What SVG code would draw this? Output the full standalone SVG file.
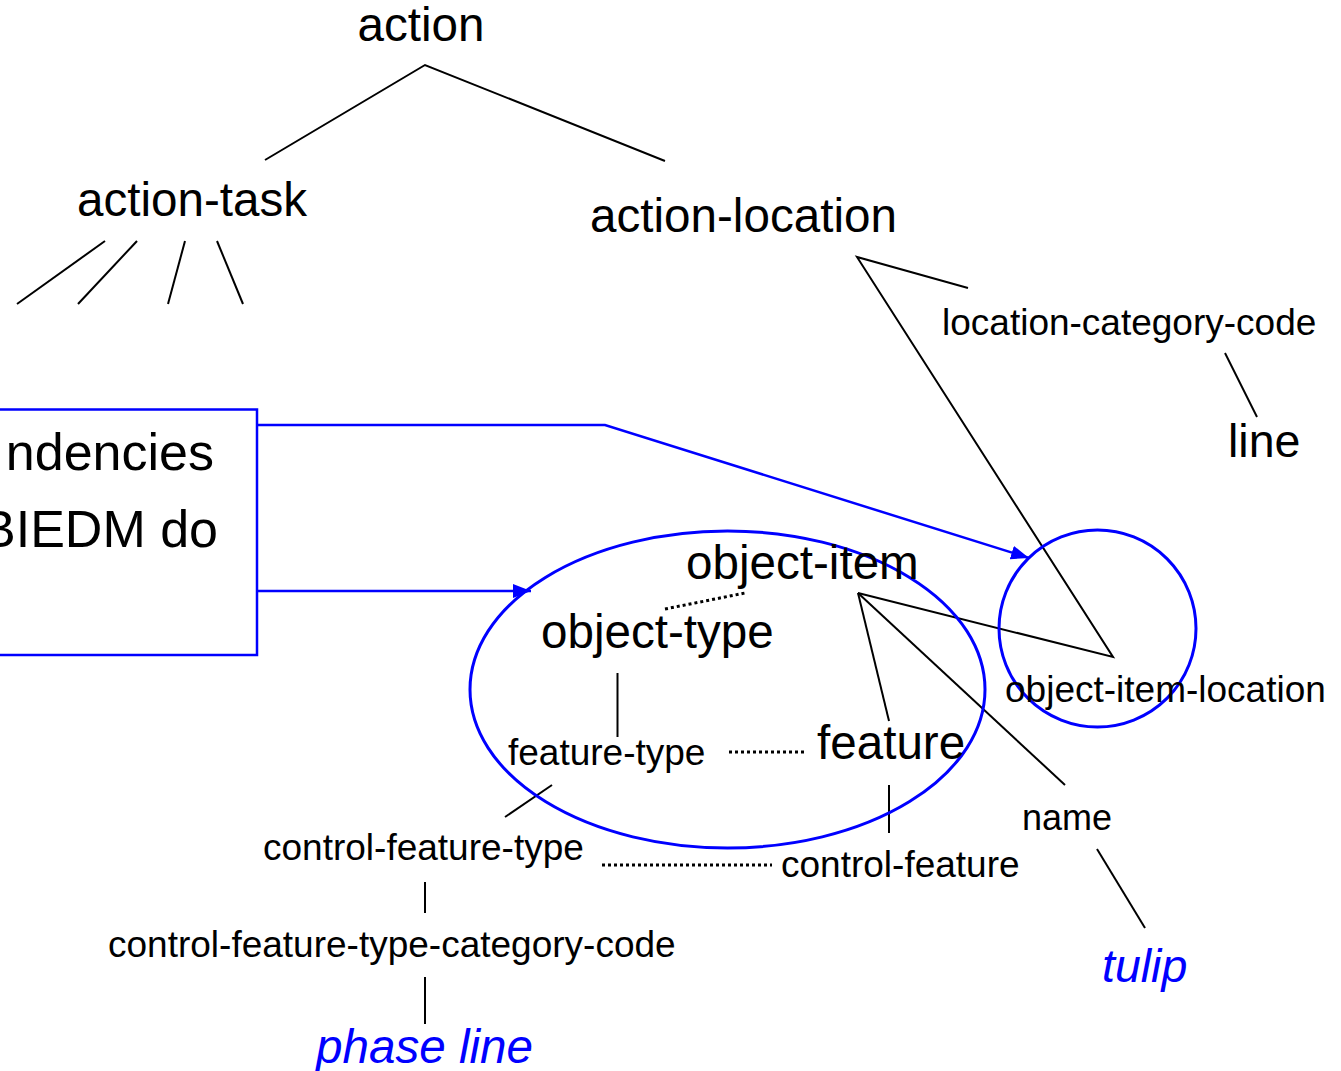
<svg xmlns="http://www.w3.org/2000/svg" width="1341" height="1071" viewBox="0 0 1341 1071">
<style>
text{font-family:"Liberation Sans",Arial,sans-serif;fill:#000}
.L{font-size:47.6px}
.S{font-size:37px}
.B{font-size:52px}
.I{font-style:italic;fill:#0000FF}
.ln{stroke:#000;stroke-width:2;fill:none}
.dot{stroke:#000;stroke-width:3;stroke-dasharray:3 3;fill:none}
.blue{stroke:#0000FF;stroke-width:2.5;fill:none}
</style>
<defs>
<marker id="ah" viewBox="0 0 10 10" refX="10" refY="5" markerWidth="18" markerHeight="14" markerUnits="userSpaceOnUse" orient="auto" preserveAspectRatio="none">
<path d="M0,0 L10,5 L0,10 z" fill="#0000FF"/>
</marker>
</defs>
<rect width="1341" height="1071" fill="#fff"/>
<g id="connectors">
<polyline class="ln" points="265,160 425,65 665,161"/>
<line class="ln" x1="105" y1="241" x2="17" y2="304"/>
<line class="ln" x1="137" y1="241" x2="78" y2="304"/>
<line class="ln" x1="185" y1="241" x2="168" y2="304"/>
<line class="ln" x1="217" y1="241" x2="243" y2="304"/>
<polyline class="ln" points="968,288 857,257 1113,657 858,593"/>
<line class="ln" x1="1225" y1="353" x2="1257" y2="417"/>
<line class="ln" x1="858" y1="593" x2="889" y2="721"/>
<line class="ln" x1="858" y1="593" x2="1065" y2="785"/>
<line class="ln" x1="1097" y1="849" x2="1145" y2="928"/>
<line class="ln" x1="617.5" y1="673" x2="617.5" y2="737"/>
<line class="ln" x1="889" y1="785" x2="889" y2="833"/>
<line class="ln" x1="552" y1="785" x2="505" y2="817"/>
<line class="ln" x1="425" y1="882" x2="425" y2="913"/>
<line class="ln" x1="425" y1="977" x2="425" y2="1024"/>
<line class="dot" x1="665" y1="609" x2="745" y2="593"/>
<line class="dot" x1="729" y1="752" x2="805" y2="752"/>
<line class="dot" x1="602" y1="865" x2="772" y2="865"/>
<polyline class="blue" points="257,425 605,425 1029,558" stroke-width="3" marker-end="url(#ah)"/>
<line class="blue" x1="257" y1="591" x2="531" y2="591" marker-end="url(#ah)"/>
</g>
<g id="n-action"><text class="L" x="421" y="41" text-anchor="middle">action</text></g>
<g id="n-action-task"><text class="L" x="77" y="216">action-task</text></g>
<g id="n-action-location"><text class="L" x="590" y="232">action-location</text></g>
<g id="n-location-category-code"><text class="S" x="942" y="335">location-category-code</text></g>
<g id="n-line"><text class="L" x="1228" y="457" style="font-size:46.5px">line</text></g>
<g id="n-box">
<rect x="-10" y="409.5" width="267" height="245.5" fill="none" stroke="#0000FF" stroke-width="2.5"/>
<text class="B" x="214" y="470" text-anchor="end">ndencies</text>
<text class="B" x="218" y="547" text-anchor="end">BIEDM do</text>
</g>
<g id="n-ellipse"><ellipse cx="727.5" cy="689.5" rx="257.5" ry="158.5" fill="none" stroke="#0000FF" stroke-width="3"/></g>
<g id="n-circle"><circle cx="1097.5" cy="628.5" r="98.5" fill="none" stroke="#0000FF" stroke-width="3"/></g>
<g id="n-object-item"><text class="L" x="686" y="579">object-item</text></g>
<g id="n-object-type"><text class="L" x="541" y="648">object-type</text></g>
<g id="n-feature-type"><text class="S" x="508" y="765">feature-type</text></g>
<g id="n-feature"><text class="L" x="817" y="759">feature</text></g>
<g id="n-object-item-location"><text class="S" x="1005" y="702">object-item-location</text></g>
<g id="n-name"><text class="S" x="1022" y="830" style="font-size:36px">name</text></g>
<g id="n-control-feature-type"><text class="S" x="263" y="860">control-feature-type</text></g>
<g id="n-control-feature"><text class="S" x="781" y="877">control-feature</text></g>
<g id="n-cftcc"><text class="S" x="108" y="957">control-feature-type-category-code</text></g>
<g id="n-phase-line"><text class="L I" x="316" y="1063">phase line</text></g>
<g id="n-tulip"><text class="L I" x="1102" y="982" style="font-size:46.5px">tulip</text></g>
</svg>
